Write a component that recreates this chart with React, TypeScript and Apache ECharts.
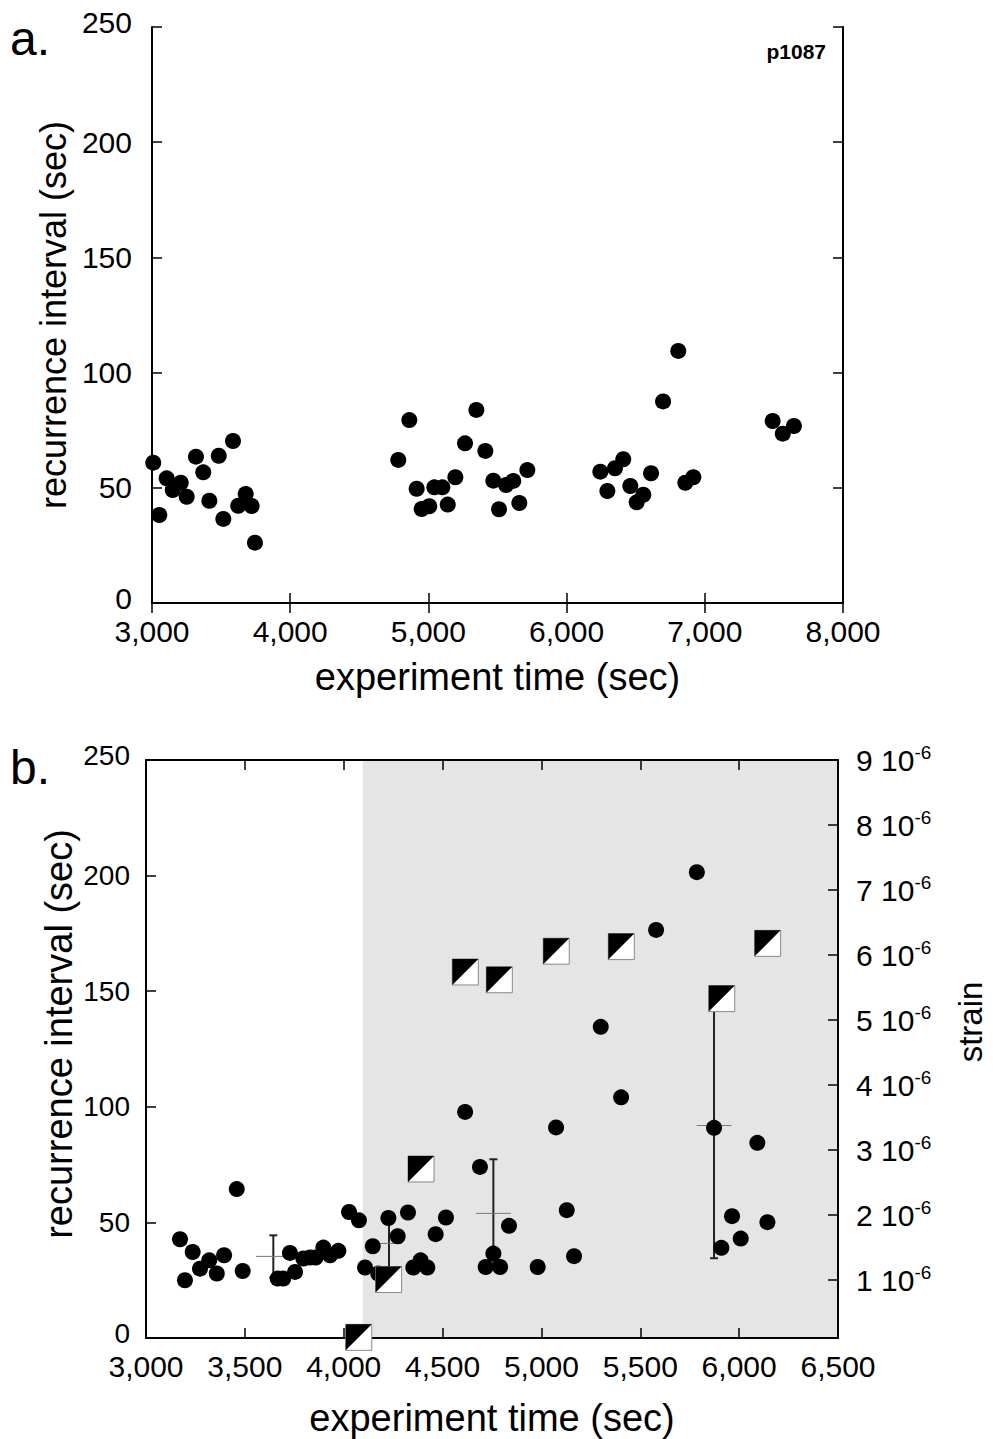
import React, { useEffect, useRef } from "react";
import * as echarts from "echarts";

// ---- Panel a (p1087) ----
const aTime = [3009, 3053, 3106, 3150, 3208, 3251, 3318, 3371, 3415, 3483, 3516, 3586, 3624, 3678, 3721, 3745,
  4782, 4862, 4915, 4951, 5006, 5043, 5101, 5140, 5195, 5265, 5347, 5412, 5470, 5511, 5562, 5614, 5658, 5716,
  6244, 6295, 6350, 6410, 6461, 6507, 6555, 6611, 6698, 6808, 6859, 6917, 7491, 7564, 7645];
const aInterval = [60.9, 38.2, 54.1, 49.0, 52.2, 46.1, 63.5, 56.7, 44.4, 63.9, 36.5, 70.3, 42.2, 47.3, 42.1, 26.2,
  62.1, 79.4, 49.6, 40.8, 42.0, 50.2, 50.2, 42.7, 54.6, 69.3, 83.8, 66.0, 53.1, 40.7, 51.2, 53.0, 43.4, 57.7,
  57.0, 48.6, 58.5, 62.4, 50.8, 43.7, 47.0, 56.3, 87.5, 109.4, 52.2, 54.6, 79.0, 73.5, 76.8];

// ---- Panel b (p867) ----
const bTime = [3172, 3197, 3236, 3273, 3320, 3358, 3395, 3459, 3489, 3666, 3694, 3728, 3754, 3796, 3830, 3858, 3897,
  3931, 3973, 4027, 4077, 4108, 4147, 4175, 4226, 4273, 4325, 4352, 4389, 4423, 4465, 4517, 4614, 4689, 4718, 4757,
  4791, 4836, 4981, 5074, 5128, 5165, 5300, 5403, 5580, 5786, 5873, 5910, 5964, 6008, 6092, 6143];
const bInterval = [42.7, 25.0, 37.2, 30.0, 33.6, 27.9, 35.8, 64.4, 29.0, 25.7, 25.7, 36.8, 28.6, 34.4, 34.8, 34.8, 39.1,
  35.8, 37.7, 54.5, 50.9, 30.5, 39.7, 27.9, 51.9, 44.0, 54.3, 30.5, 33.6, 30.5, 44.9, 52.1, 97.8, 74.0, 30.7, 36.5,
  30.7, 48.5, 30.7, 91.1, 55.3, 35.4, 134.6, 104.1, 176.5, 201.5, 90.9, 39.0, 52.7, 43.0, 84.4, 50.1];

// strain, in units of 1e-6
const strainTime = [4076, 4227, 4391, 4615, 4787, 5075, 5404, 5912, 6144];
const strainMicro = [0.12, 1.01, 2.71, 5.74, 5.62, 6.06, 6.13, 5.33, 6.18];
const strainTicks = [1, 2, 3, 4, 5, 6, 7, 8, 9];

// error bars (mean, range, time window half width)
const errTime = [3644, 4229, 4757, 5873];
const errMean = [35.3, 40.9, 53.9, 91.9];
const errLow = [26.2, 29.9, 30.5, 34.5];
const errHigh = [44.4, 51.9, 77.3, 149.3];
const errHalfWidth = [88, 66, 88, 88];

const shadeStart = 4096;
const shadeEnd = 6500;

const FONT = "'Liberation Sans', Arial, Helvetica, sans-serif";
const comma = (v: number) => String(v).replace(/\B(?=(\d{3})+(?!\d))/g, ",");

export default function App() {
  const ref = useRef<HTMLDivElement>(null);
  useEffect(() => {
    if (!ref.current) return;
    const chart = echarts.init(ref.current, undefined, { renderer: "svg" });
    const line = { lineStyle: { color: "#000", width: 2 } };
    const tick = { inside: true, length: 10, lineStyle: { color: "#000", width: 1.5 } };
    const hiddenAxis = (extra: any) => ({
      axisLine: line, axisTick: tick, axisLabel: { show: false }, splitLine: { show: false }, z: 3, ...extra,
    });
    const yLabel = (size: number, margin: number) => ({
      margin, color: "#000",
      formatter: (v: number) => (v === 0 || v === 250 ? `{e|${v}}` : `{n|${v}}`),
      rich: {
        n: { fontSize: size, fontFamily: FONT, color: "#000" },
        e: { fontSize: size, fontFamily: FONT, color: "#000", padding: [0, 0, 10, 0] },
      },
    });
    const option: any = {
      animation: false,
      textStyle: { fontFamily: FONT, color: "#000" },
      grid: [
        { left: 152, top: 27, width: 691, height: 576 },
        { left: 146, top: 760, width: 692, height: 578 },
      ],
      xAxis: [
        {
          gridIndex: 0, type: "value", min: 3000, max: 8000, interval: 1000, position: "bottom",
          axisLine: line, axisTick: tick, splitLine: { show: false }, z: 3,
          axisLabel: { fontSize: 30, color: "#000", margin: 13, formatter: comma },
          name: "experiment time (sec)", nameLocation: "middle", nameGap: 55,
          nameTextStyle: { fontSize: 38, color: "#000" },
        },
        hiddenAxis({ gridIndex: 0, type: "value", min: 3000, max: 8000, interval: 1000, position: "top" }),
        {
          gridIndex: 1, type: "value", min: 3000, max: 6500, interval: 500, position: "bottom",
          axisLine: line, axisTick: tick, splitLine: { show: false }, z: 3,
          axisLabel: { fontSize: 30, color: "#000", margin: 13, formatter: comma },
          name: "experiment time (sec)", nameLocation: "middle", nameGap: 61,
          nameTextStyle: { fontSize: 38, color: "#000" },
        },
        hiddenAxis({ gridIndex: 1, type: "value", min: 3000, max: 6500, interval: 500, position: "top" }),
      ],
      yAxis: [
        {
          gridIndex: 0, type: "value", min: 0, max: 250, interval: 50, position: "left",
          axisLine: line, axisTick: tick, splitLine: { show: false }, z: 3,
          axisLabel: yLabel(30, 20),
          name: "recurrence interval (sec)", nameLocation: "middle", nameGap: 74,
          nameTextStyle: { fontSize: 36, color: "#000" },
        },
        hiddenAxis({ gridIndex: 0, type: "value", min: 0, max: 250, interval: 50, position: "right" }),
        {
          gridIndex: 1, type: "value", min: 0, max: 250, interval: 50, position: "left",
          axisLine: line, axisTick: tick, splitLine: { show: false }, z: 3,
          axisLabel: yLabel(28, 16),
        },
        {
          gridIndex: 1, type: "value", min: 0.11, max: 9, position: "right",
          axisLine: line, splitLine: { show: false }, z: 3,
          axisTick: { ...tick, customValues: strainTicks },
          axisLabel: {
            customValues: strainTicks, margin: 18, color: "#000",
            formatter: (v: number) => `{n|${Math.round(v)} 10}{s|-6}`,
            rich: {
              n: { fontSize: 30, fontFamily: FONT, color: "#000", lineHeight: 34 },
              s: { fontSize: 19, fontFamily: FONT, color: "#000", verticalAlign: "top", lineHeight: 19 },
            },
          },
        },
      ],
      graphic: [
        { type: "text", left: 10, top: 14, style: { text: "a.", fontSize: 48, fontFamily: FONT, fill: "#000" } },
        { type: "text", left: 10, top: 743, style: { text: "b.", fontSize: 48, fontFamily: FONT, fill: "#000" } },
        { type: "text", right: 167, top: 41, style: { text: "p1087", fontSize: 21, fontWeight: "bold", fontFamily: FONT, fill: "#000" } },
        { type: "text", right: 187, top: 765, style: { text: "p867", fontSize: 21, fontWeight: "bold", fontFamily: FONT, fill: "#000" } },
        {
          type: "text", x: 59, y: 1034, rotation: Math.PI / 2,
          style: { text: "recurrence interval (sec)", fontSize: 38, fontFamily: FONT, fill: "#000", align: "center", verticalAlign: "middle" },
        },
        {
          type: "text", x: 970, y: 1022, rotation: Math.PI / 2,
          style: { text: "strain", fontSize: 33, fontFamily: FONT, fill: "#000", align: "center", verticalAlign: "middle" },
        },
      ],
      series: [
        {
          type: "scatter", xAxisIndex: 0, yAxisIndex: 0, symbol: "circle", symbolSize: 16,
          itemStyle: { color: "#000", opacity: 1 }, z: 5,
          data: aTime.map((t, i) => [t, aInterval[i]]),
        },
        {
          type: "custom", xAxisIndex: 2, yAxisIndex: 2, z: 1, clip: true,
          data: [[shadeStart, shadeEnd]],
          renderItem: (params: any, api: any) => {
            const p0 = api.coord([api.value(0), 250]);
            const p1 = api.coord([api.value(1), 0]);
            return { type: "rect", shape: { x: p0[0], y: p0[1], width: p1[0] - p0[0], height: p1[1] - p0[1] }, style: { fill: "#e5e5e5" } };
          },
        },
        {
          type: "custom", xAxisIndex: 2, yAxisIndex: 2, z: 4,
          data: errTime.map((t, i) => [t, errMean[i], errLow[i], errHigh[i], errHalfWidth[i]]),
          renderItem: (params: any, api: any) => {
            const x = api.value(0), m = api.value(1), lo = api.value(2), hi = api.value(3), hw = api.value(4);
            const top = api.coord([x, hi]);
            const bot = api.coord([x, lo]);
            const l = api.coord([x - hw, m]);
            const r = api.coord([x + hw, m]);
            const cap = 4;
            const dark = { stroke: "#222", lineWidth: 2 };
            return {
              type: "group",
              children: [
                { type: "line", shape: { x1: top[0], y1: top[1], x2: bot[0], y2: bot[1] }, style: dark },
                { type: "line", shape: { x1: top[0] - cap, y1: top[1], x2: top[0] + cap, y2: top[1] }, style: dark },
                { type: "line", shape: { x1: bot[0] - cap, y1: bot[1], x2: bot[0] + cap, y2: bot[1] }, style: dark },
                { type: "line", shape: { x1: l[0], y1: l[1], x2: r[0], y2: r[1] }, style: { stroke: "#777", lineWidth: 1 } },
              ],
            };
          },
        },
        {
          type: "scatter", xAxisIndex: 2, yAxisIndex: 2, symbol: "circle", symbolSize: 16,
          itemStyle: { color: "#000", opacity: 1 }, z: 5,
          data: bTime.map((t, i) => [t, bInterval[i]]),
        },
        {
          type: "scatter", xAxisIndex: 2, yAxisIndex: 3, symbol: "rect", symbolSize: 26, z: 6,
          itemStyle: { color: "#fff", borderColor: "#888", borderWidth: 1, opacity: 1 },
          data: strainTime.map((t, i) => [t, strainMicro[i]]),
        },
        {
          type: "scatter", xAxisIndex: 2, yAxisIndex: 3, symbol: "path://M0,0L10,0L0,10Z", symbolSize: 26, z: 7,
          itemStyle: { color: "#000", opacity: 1 },
          data: strainTime.map((t, i) => [t, strainMicro[i]]),
        },
      ],
    };
    chart.setOption(option);
    return () => chart.dispose();
  }, []);
  return <div ref={ref} style={{ position: "absolute", left: 0, top: 0, width: 993, height: 1439, background: "#fff" }} />;
}
